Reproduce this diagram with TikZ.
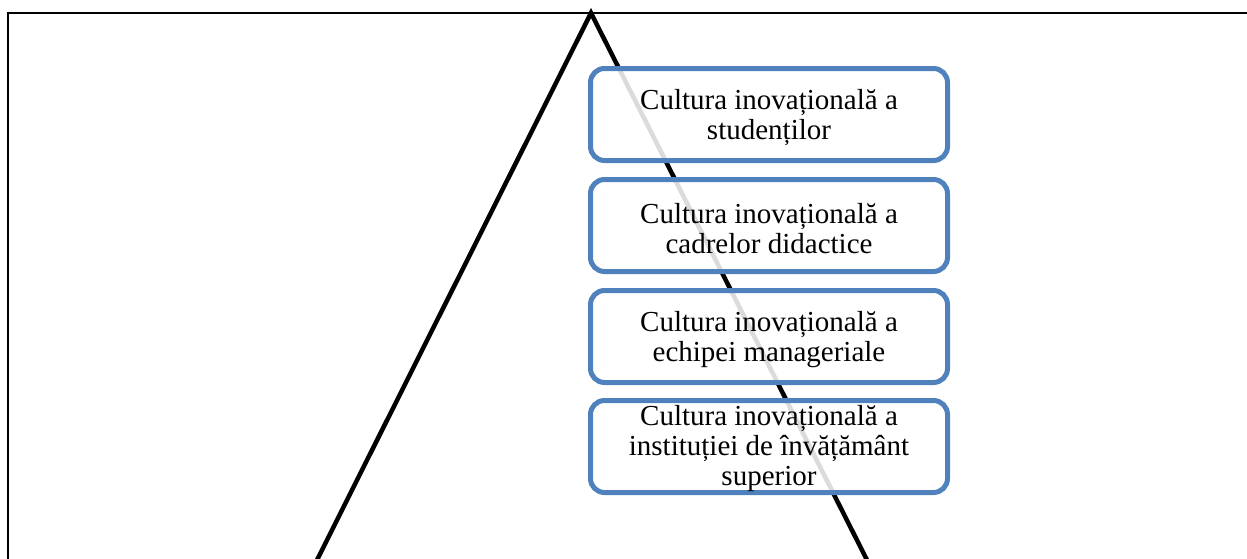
\documentclass[tikz,border=0pt]{standalone}
\usepackage{fontspec}
\setmainfont{Liberation Serif}
\definecolor{boxblue}{HTML}{4F81BD}
\tikzset{
  levelbox/.style={draw=boxblue, line width=5pt, rounded corners=14pt,
    fill=white, fill opacity=0.86,
    minimum width=357pt, minimum height=92pt, inner sep=0pt},
  leveltext/.style={text=black, align=center, inner sep=0pt,
    font=\fontsize{29}{30}\selectfont},
  frameline/.style={line width=2pt, black},
  triline/.style={line width=4.5pt, black, line join=miter}
}
\begin{document}
\begin{tikzpicture}[x=1pt,y=-1pt]
\useasboundingbox (0,0) rectangle (1247,558);
\clip (0,0) rectangle (1247,558);
% frame
\coordinate (fbl) at (7.5,560);
\coordinate (ftl) at (7.5,12.5);
\coordinate (ftr) at (1250,12.5);
\draw[frameline] (fbl) -- (ftl) -- (ftr);
% triangle
\coordinate (apex) at (591,13);
\coordinate (tl2) at (316,562);
\coordinate (tr2) at (868,562);
\draw[triline] (tl2) -- (apex) -- (tr2);
% boxes
\node[levelbox] (b1) at (769,114.5) {};
\node[levelbox] (b2) at (769,225.5) {};
\node[levelbox] (b3) at (769,336.5) {};
\node[levelbox] (b4) at (769,446.5) {};
\node[leveltext] (t1) at ([yshift=-3pt]b1.center) {Cultura inovațională a\\studenților};
\node[leveltext] (t2) at ([yshift=-3pt]b2.center) {Cultura inovațională a\\cadrelor didactice};
\node[leveltext] (t3) at ([yshift=-3pt]b3.center) {Cultura inovațională a\\echipei manageriale};
\node[leveltext] (t4) at ([yshift=-2pt]b4.center) {Cultura inovațională a\\instituției de învățământ\\superior};
\end{tikzpicture}
\end{document}
